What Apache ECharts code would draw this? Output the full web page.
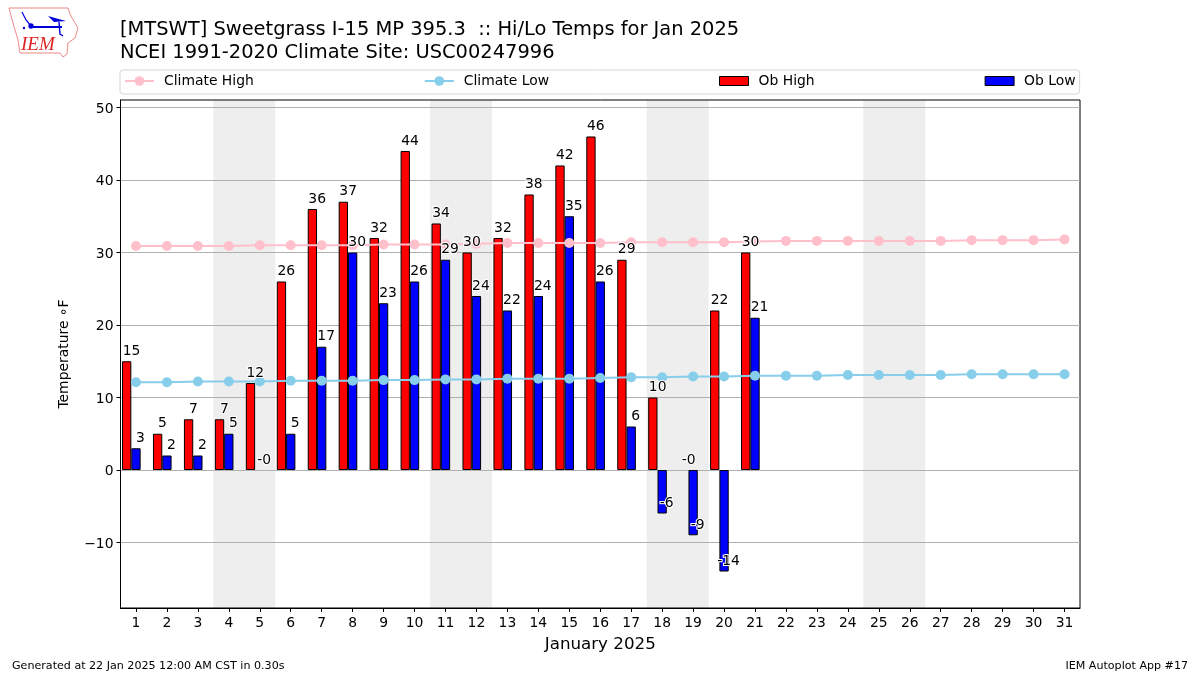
<!DOCTYPE html>
<html>
<head>
<meta charset="utf-8">
<style>html,body{margin:0;padding:0;background:#fff}#c{width:1200px;height:675px}</style>
<script src="https://cdn.jsdelivr.net/npm/echarts@6/dist/echarts.min.js"></script>
</head>
<body>
<div id="c"></div>
<script>
const days = ['1','2','3','4','5','6','7','8','9','10','11','12','13','14','15','16','17','18','19','20','21','22','23','24','25','26','27','28','29','30','31'];
const climateHigh = [30.9,30.9,30.9,30.9,31.0,31.0,31.0,31.0,31.1,31.1,31.1,31.2,31.3,31.3,31.3,31.3,31.4,31.4,31.4,31.4,31.5,31.6,31.6,31.6,31.6,31.6,31.6,31.7,31.7,31.7,31.8];
const climateLow = [12.1,12.1,12.2,12.2,12.2,12.3,12.3,12.3,12.4,12.4,12.5,12.5,12.6,12.6,12.6,12.7,12.8,12.8,12.9,12.9,13.0,13.0,13.0,13.1,13.1,13.1,13.1,13.2,13.2,13.2,13.2];
const obHigh = [15,5,7,7,12,26,36,37,32,44,34,30,32,38,42,46,29,10,-0,22,30,null,null,null,null,null,null,null,null,null,null];
const obLow = [3,2,2,5,-0,5,17,30,23,26,29,24,22,24,35,26,6,-6,-9,-14,21,null,null,null,null,null,null,null,null,null,null];
const weekends = [[3.5,5.5],[10.5,12.5],[17.5,19.5],[24.5,26.5]];
const yTicks = [-10,0,10,20,30,40,50];
const titleText = '[MTSWT] Sweetgrass I-15 MP 395.3  :: Hi/Lo Temps for Jan 2025\nNCEI 1991-2020 Climate Site: USC00247996';
const footerLeft = 'Generated at 22 Jan 2025 12:00 AM CST in 0.30s';
const footerRight = 'IEM Autoplot App #17';

const FONT = '"DejaVu Sans"';
const isNegZero = v => Object.is(v, -0);
const fmt = v => isNegZero(v) ? '-0' : String(v);
const labelSeries = (name, arr, dx) => ({
  name, type: 'scatter', data: arr, symbol: 'circle', symbolSize: 1, z: 6, silent: true,
  itemStyle: {color: 'rgba(0,0,0,0)', opacity: 1},
  label: {show: true, position: 'inside', offset: [dx, -10], fontFamily: FONT, fontSize: 13.9, color: '#000', opacity: 1,
    textBorderColor: '#fff', textBorderWidth: 2,
    formatter: p => fmt(arr[p.dataIndex])}
});
const barSeries = (name, arr, color) => ({
  name, type: 'bar', data: arr.map(v => isNegZero(v) ? null : v), barWidth: 9.3, barGap: 0, z: 3,
  itemStyle: {color, borderColor: '#000', borderWidth: 1}
});
const lineSeries = (name, arr, color) => ({
  name, type: 'line', data: arr, symbol: 'circle', symbolSize: 10, showSymbol: true, z: 4,
  lineStyle: {color, width: 2}, itemStyle: {color}
});
const rectIcon = 'path://M0,0H29V9H0Z';
const rectStyle = {borderWidth: 1, borderColor: '#000'};

const chart = echarts.init(document.getElementById('c'), null, {renderer: 'canvas'});
chart.setOption({
  animation: false,
  textStyle: {fontFamily: FONT},
  title: [
    {text: titleText, left: 120, top: 18, padding: 0, textStyle: {fontFamily: FONT, fontSize: 19.46, fontWeight: 'normal', color: '#000', lineHeight: 23}},
    {text: footerLeft, left: 12, top: 661, padding: 0, textStyle: {fontFamily: FONT, fontSize: 11.1, fontWeight: 'normal', color: '#000'}},
    {text: footerRight, right: 12, top: 661, padding: 0, textStyle: {fontFamily: FONT, fontSize: 11.1, fontWeight: 'normal', color: '#000'}}
  ],
  legend: {
    data: [{name: 'Climate High'}, {name: 'Climate Low'},
      {name: 'Ob High', icon: rectIcon, itemStyle: rectStyle},
      {name: 'Ob Low', icon: rectIcon, itemStyle: rectStyle}],
    left: 120, top: 70, itemGap: 170, itemWidth: 29, itemHeight: 12,
    padding: [4, 4, 6, 4], borderColor: '#d5d5d5', borderWidth: 1, borderRadius: 3,
    textStyle: {fontFamily: FONT, fontSize: 13.9, color: '#000', padding: [0, 0, 0, 5]}
  },
  grid: {left: 120.5, right: 120, top: 100, bottom: 67, show: true, z: 1, borderColor: '#000', borderWidth: 1, backgroundColor: 'transparent', containLabel: false},
  xAxis: [
    {type: 'category', data: days, position: 'bottom', z: 1,
      name: 'January 2025', nameLocation: 'middle', nameGap: 28, nameTextStyle: {fontFamily: FONT, fontSize: 16.7, color: '#000'},
      axisLine: {onZero: false, lineStyle: {color: '#000', width: 1}},
      axisTick: {show: true, alignWithLabel: true, length: 4, lineStyle: {color: '#000', width: 1}},
      axisLabel: {interval: 0, fontFamily: FONT, fontSize: 13.9, color: '#000', margin: 8},
      splitLine: {show: false}},
    {type: 'value', min: 0.5, max: 31.5, show: false, splitLine: {show: false}}
  ],
  yAxis: {
    type: 'value', min: -19.03, max: 51.03, z: 1,
    name: 'Temperature \u2218F', nameLocation: 'middle', nameGap: 49, nameRotate: 90,
    nameTextStyle: {fontFamily: FONT, fontSize: 13.9, color: '#000'},
    axisLine: {show: true, lineStyle: {color: '#000', width: 1}},
    axisTick: {show: true, length: 4, lineStyle: {color: '#000', width: 1}, customValues: yTicks},
    axisLabel: {fontFamily: FONT, fontSize: 13.9, color: '#000', margin: 7, verticalAlign: 'top', lineHeight: 3, customValues: yTicks,
      showMinLabel: true, showMaxLabel: true, formatter: v => String(v).replace('-', '\u2212')},
    splitLine: {show: true, lineStyle: {color: '#b0b0b0', width: 1}}
  },
  series: [
    {name: 'weekend', type: 'line', xAxisIndex: 1, data: [], z: 0, silent: true,
      markArea: {silent: true, z: 0, itemStyle: {color: '#eeeeee'}, data: weekends.map(w => [{xAxis: w[0]}, {xAxis: w[1]}])}},
    barSeries('Ob High', obHigh, '#ff0000'),
    barSeries('Ob Low', obLow, '#0000ff'),
    {name: 'spacer', type: 'bar', data: [], barWidth: 9.3, barGap: 0},
    lineSeries('Climate High', climateHigh, '#ffc0cb'),
    lineSeries('Climate Low', climateLow, '#87ceeb'),
    labelSeries('high labels', obHigh, -4.5),
    labelSeries('low labels', obLow, 4.5)
  ],
  graphic: [
    {type: 'polygon', shape: {points: [[9,8],[68,8],[70,14],[72,18],[78,28],[75,38],[68,43],[67,54],[63,57],[60,53],[20,53],[18,40],[13,23]]}, style: {fill: '#fff', stroke: '#e88', lineWidth: 1}},
    {type: 'polyline', shape: {points: [[32,27],[62,27]]}, style: {stroke: '#00d', lineWidth: 2, fill: null}},
    {type: 'polyline', shape: {points: [[22,12],[26,20],[31,26]]}, style: {stroke: '#00d', lineWidth: 1.2, fill: null}},
    {type: 'circle', shape: {cx: 31, cy: 26, r: 2.7}, style: {fill: '#00d'}},
    {type: 'circle', shape: {cx: 24, cy: 28, r: 1.2}, style: {fill: '#00d'}},
    {type: 'polygon', shape: {points: [[48,16],[55,18],[66,21],[54,22]]}, style: {fill: '#00d'}},
    {type: 'polyline', shape: {points: [[59,22],[60,34],[63,36]]}, style: {stroke: '#00d', lineWidth: 1.4, fill: null}},
    {type: 'text', style: {x: 21, y: 35, text: 'IEM', fill: '#d22', font: 'italic 19px "Liberation Serif"'}}
  ]
});
</script>
</body>
</html>
